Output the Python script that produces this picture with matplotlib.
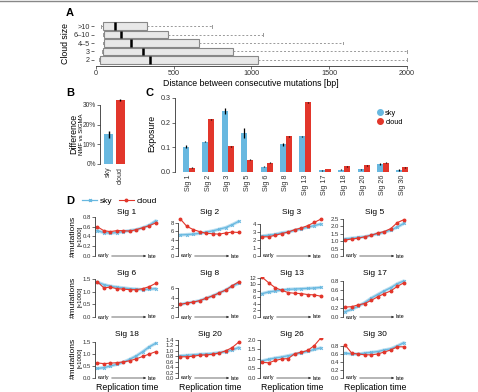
import matplotlib
matplotlib.use("Agg")
import matplotlib.pyplot as plt
import numpy as np

plt.rcParams['font.family'] = ['Liberation Sans', 'DejaVu Sans']

W, H = 478, 392
SKY = "#68B8E0"
CLOUD = "#E2362B"

# ---- Panel A data (box stats) ----
cloud_sizes = ["2", "3", "4\u20135", "6\u201310", ">10"]
box_low = [20, 40, 45, 45, 35]
box_q1 = [25, 45, 50, 50, 45]
box_med = [345, 302, 225, 163, 124]
box_q3 = [1045, 880, 665, 460, 328]
box_high = [2000, 2000, 1590, 1075, 745]

# ---- Panel B data ----
b_groups = ["sky", "cloud"]
b_values = [15.0, 32.5]
b_err = [2.0, 0.4]

# ---- Panel C data ----
sigs = ["Sig 1", "Sig 2", "Sig 3", "Sig 5", "Sig 6", "Sig 8", "Sig 13",
        "Sig 17", "Sig 18", "Sig 20", "Sig 26", "Sig 30"]
c_sky = [0.102, 0.122, 0.248, 0.158, 0.022, 0.112, 0.145, 0.007, 0.009, 0.012, 0.032, 0.009]
c_cloud = [0.017, 0.213, 0.105, 0.050, 0.037, 0.145, 0.282, 0.012, 0.023, 0.028, 0.038, 0.020]
c_sky_err = [0.006, 0.002, 0.012, 0.020, 0.003, 0.006, 0.002, 0.002, 0.002, 0.002, 0.003, 0.003]
c_cloud_err = [0.002, 0.002, 0.002, 0.002, 0.002, 0.002, 0.002, 0.001, 0.002, 0.002, 0.002, 0.002]

# ---- Panel D data ----
d_sky = {
    "Sig 1": [0.52, 0.48, 0.47, 0.48, 0.50, 0.52, 0.54, 0.58, 0.63, 0.72],
    "Sig 2": [5.1, 5.2, 5.3, 5.5, 5.8, 6.1, 6.5, 6.9, 7.6, 8.4],
    "Sig 3": [2.5, 2.6, 2.7, 2.9, 3.0, 3.2, 3.4, 3.6, 3.8, 4.0],
    "Sig 5": [1.15, 1.2, 1.25, 1.3, 1.4, 1.5, 1.6, 1.75, 1.95, 2.2],
    "Sig 6": [1.38, 1.28, 1.22, 1.18, 1.15, 1.12, 1.10, 1.08, 1.10, 1.12],
    "Sig 8": [2.6, 2.9, 3.1, 3.4, 3.9, 4.4, 5.0, 5.6, 6.4, 7.0],
    "Sig 13": [7.2, 7.7, 8.0, 8.3, 8.5, 8.6, 8.7, 8.8, 8.9, 9.1],
    "Sig 17": [0.12, 0.17, 0.24, 0.32, 0.42, 0.50, 0.58, 0.65, 0.74, 0.80],
    "Sig 18": [0.40, 0.43, 0.50, 0.57, 0.66, 0.78, 0.92, 1.10, 1.30, 1.45],
    "Sig 20": [0.82, 0.83, 0.85, 0.87, 0.88, 0.90, 0.93, 0.97, 1.03, 1.12],
    "Sig 26": [0.90, 0.98, 1.05, 1.10, 1.17, 1.25, 1.32, 1.40, 1.50, 1.58],
    "Sig 30": [0.62, 0.60, 0.60, 0.62, 0.64, 0.66, 0.70, 0.73, 0.80, 0.88],
}
d_cloud = {
    "Sig 1": [0.60, 0.52, 0.50, 0.52, 0.52, 0.51, 0.54, 0.58, 0.62, 0.68],
    "Sig 2": [9.0, 7.2, 6.4, 5.9, 5.5, 5.4, 5.3, 5.6, 5.8, 5.7],
    "Sig 3": [2.4, 2.4, 2.6, 2.8, 3.0, 3.3, 3.5, 3.8, 4.2, 4.6],
    "Sig 5": [1.08, 1.15, 1.2, 1.3, 1.4, 1.55, 1.65, 1.85, 2.25, 2.45],
    "Sig 6": [1.40, 1.15, 1.18, 1.12, 1.10, 1.08, 1.08, 1.12, 1.20, 1.33],
    "Sig 8": [2.6, 2.9, 3.1, 3.4, 3.9, 4.4, 5.0, 5.6, 6.5, 7.3],
    "Sig 13": [12.2, 10.5, 9.0, 8.2, 7.5, 7.3, 7.2, 6.9, 6.8, 6.4],
    "Sig 17": [0.22, 0.23, 0.27, 0.30, 0.37, 0.45, 0.52, 0.58, 0.68, 0.76],
    "Sig 18": [0.63, 0.60, 0.62, 0.64, 0.67, 0.72, 0.80, 0.90, 1.00, 1.10],
    "Sig 20": [0.78, 0.78, 0.80, 0.84, 0.85, 0.87, 0.92, 1.00, 1.12, 1.32],
    "Sig 26": [0.82, 0.80, 0.92, 1.00, 1.02, 1.28, 1.35, 1.45, 1.70, 2.10],
    "Sig 30": [0.82, 0.62, 0.60, 0.58, 0.58, 0.60, 0.65, 0.70, 0.78, 0.78],
}
d_ymax = {"Sig 1": 0.82, "Sig 2": 9.7, "Sig 3": 5.0, "Sig 5": 2.7,
          "Sig 6": 1.58, "Sig 8": 8.3, "Sig 13": 12.3, "Sig 17": 0.89,
          "Sig 18": 1.67, "Sig 20": 1.47, "Sig 26": 2.1, "Sig 30": 1.0}
d_ticks = {"Sig 1": [0, 0.2, 0.4, 0.6, 0.8], "Sig 2": [0, 2, 4, 6, 8],
           "Sig 3": [0, 1, 2, 3, 4], "Sig 5": [0, 0.5, 1.0, 1.5, 2.0, 2.5],
           "Sig 6": [0, 0.5, 1.0, 1.5], "Sig 8": [0, 2, 4, 6],
           "Sig 13": [0, 2, 4, 6, 8, 10, 12], "Sig 17": [0, 0.2, 0.4, 0.6, 0.8],
           "Sig 18": [0, 0.5, 1.0, 1.5], "Sig 20": [0, 0.2, 0.4, 0.6, 0.8, 1.0, 1.2, 1.4],
           "Sig 26": [0, 0.5, 1.0, 1.5, 2.0], "Sig 30": [0, 0.2, 0.4, 0.6, 0.8]}
d_fmt = {"Sig 1": "%.1f", "Sig 2": "%d", "Sig 3": "%d", "Sig 5": "%.1f",
         "Sig 6": "%.1f", "Sig 8": "%d", "Sig 13": "%d", "Sig 17": "%.1f",
         "Sig 18": "%.1f", "Sig 20": "%.1f", "Sig 26": "%.1f", "Sig 30": "%.1f"}

fig = plt.figure(figsize=(W / 100, H / 100), dpi=100)


def ax_px(l, t, r, b):
    return fig.add_axes([l / W, 1 - b / H, (r - l) / W, (b - t) / H])


def style(ax, fs=5):
    for s in ["top", "right"]:
        ax.spines[s].set_visible(False)
    ax.tick_params(labelsize=fs, length=2, width=0.5, pad=1, colors="#333333")
    for s in ["left", "bottom"]:
        ax.spines[s].set_linewidth(0.6)
        ax.spines[s].set_color("#333333")


# thin frame line at top
fig.add_artist(plt.Line2D([0, 1], [1 - 1 / H, 1 - 1 / H], color="#888888", lw=1))

# ================= Panel A =================
ppu = 311 / 2000
axA = ax_px(96 - 15 * ppu, 20, 407 + 10 * ppu, 66)
stats = []
for i in range(len(cloud_sizes)):
    stats.append(dict(med=box_med[i], q1=box_q1[i], q3=box_q3[i],
                      whislo=box_low[i], whishi=box_high[i], fliers=[]))
axA.bxp(stats, positions=np.arange(1, 6), vert=False, widths=0.88,
        patch_artist=True, showfliers=False,
        boxprops=dict(facecolor="#E8E8E8", edgecolor="#888888", lw=0.8),
        medianprops=dict(color="black", lw=1.8),
        whiskerprops=dict(color="#999999", lw=0.7, ls=(0, (2, 2))),
        capprops=dict(color="#999999", lw=0.7), capwidths=0.35)
axA.set_xlim(-15, 2010)
axA.set_ylim(0.27, 5.73)
style(axA, 5.2)
axA.spines["left"].set_visible(False)
axA.spines["bottom"].set_bounds(0, 2000)
axA.set_xticks([0, 500, 1000, 1500, 2000])
axA.set_yticks(np.arange(1, 6))
axA.set_yticklabels(cloud_sizes)
axA.set_xlabel("Distance between consecutive mutations [bp]", fontsize=6.3, labelpad=1)
axA.set_ylabel("Cloud size", fontsize=6.3, labelpad=2)
fig.text(66 / W, 1 - 13 / H, "A", fontsize=8, fontweight="bold", va="center")

# ================= Panel B =================
axB = ax_px(100, 164 - 33 * 1.967, 126, 164)
xb = np.array([0, 1])
axB.bar(xb, b_values, width=0.8, color=[SKY, CLOUD], yerr=b_err,
        error_kw=dict(ecolor="black", elinewidth=1.0, capsize=0))
axB.set_xlim(-0.75, 1.5)
axB.set_ylim(0, 33)
style(axB, 4.8)
axB.spines["bottom"].set_visible(False)
axB.spines["left"].set_bounds(0, 30)
axB.set_yticks([0, 10, 20, 30])
axB.set_yticklabels(["0%", "10%", "20%", "30%"])
axB.set_xticks(xb)
axB.set_xticklabels(b_groups, rotation=90, fontsize=5)
axB.tick_params(axis="x", length=0, pad=2)
fig.text(74 / W, 1 - 134 / H, "Difference", rotation=90, fontsize=6.3, ha="center", va="center")
fig.text(81.5 / W, 1 - 134 / H, "NMF vs SIGMA", rotation=90, fontsize=4.3, ha="center", va="center")
fig.text(66 / W, 1 - 93 / H, "B", fontsize=8, fontweight="bold", va="center")

# ================= Panel C =================
ppc = 19.4
left_c = -0.72
axC = ax_px(175, 172 - 0.312 * 246.7, 175 + 12.32 * ppc, 172)
xc = np.arange(len(sigs))
bw = 0.31
axC.bar(xc - bw / 2, c_sky, width=bw, color=SKY, yerr=c_sky_err, label="sky",
        error_kw=dict(ecolor="black", elinewidth=0.9, capsize=0))
axC.bar(xc + bw / 2, c_cloud, width=bw, color=CLOUD, yerr=c_cloud_err, label="cloud",
        error_kw=dict(ecolor="black", elinewidth=0.9, capsize=0))
axC.set_xlim(left_c, left_c + 12.32)
axC.set_ylim(0, 0.312)
style(axC, 5.2)
axC.spines["bottom"].set_visible(False)
axC.spines["left"].set_bounds(0, 0.3)
axC.set_yticks([0, 0.1, 0.2, 0.3])
axC.set_yticklabels(["0.0", "0.1", "0.2", "0.3"])
axC.set_xticks(xc)
axC.set_xticklabels(sigs, rotation=90, fontsize=5.2)
axC.tick_params(axis="x", length=0, pad=2)
axC.set_ylabel("Exposure", fontsize=6.3, labelpad=3)
hs = [plt.Line2D([], [], marker="o", ls="", color=SKY, ms=4),
      plt.Line2D([], [], marker="o", ls="", color=CLOUD, ms=4)]
fig.legend(hs, ["sky", "cloud"], loc="upper left", bbox_to_anchor=(372 / W, 1 - 106 / H),
           frameon=False, fontsize=5.3, handletextpad=0.1, labelspacing=0.25,
           borderpad=0, handlelength=1.2)
fig.text(146 / W, 1 - 93 / H, "C", fontsize=8, fontweight="bold", va="center")

# ================= Panel D =================
fig.text(66 / W, 1 - 201 / H, "D", fontsize=8, fontweight="bold", va="center")
hd = [plt.Line2D([], [], marker="x", color=SKY, ms=2, lw=0.9),
      plt.Line2D([], [], marker="o", color=CLOUD, ms=1.8, lw=0.8)]
fig.legend(hd, ["sky", "cloud"], loc="center left", bbox_to_anchor=(78 / W, 1 - 201 / H),
           frameon=False, fontsize=6, ncol=2, handletextpad=0.3, columnspacing=0.8,
           borderpad=0, handlelength=1.8)

col_left = [95, 178, 260, 343]
row_bottom = [256, 317, 378]
order = ["Sig 1", "Sig 2", "Sig 3", "Sig 5", "Sig 6", "Sig 8", "Sig 13", "Sig 17",
         "Sig 18", "Sig 20", "Sig 26", "Sig 30"]
xd = np.arange(10)
for k, name in enumerate(order):
    r, c = divmod(k, 4)
    l = col_left[c]
    b = row_bottom[r]
    ax = ax_px(l, b - 40, l + 64, b)
    sky = d_sky[name]
    cl = d_cloud[name]
    ax.plot(xd, sky, color=SKY, lw=2.4, alpha=0.45, solid_capstyle="round")
    ax.plot(xd, sky, color=SKY, lw=0.9, marker="x", ms=2, mew=0.7)
    ax.plot(xd, cl, color=CLOUD, lw=0.8, marker="o", ms=1.8)
    ax.set_xlim(-0.35, 9.5)
    ax.set_ylim(0, d_ymax[name])
    style(ax, 4.3)
    ax.spines["bottom"].set_visible(False)
    tk = d_ticks[name]
    ax.spines["left"].set_bounds(0, tk[-1])
    ax.set_yticks(tk)
    ax.set_yticklabels([d_fmt[name] % t for t in tk])
    ax.set_xticks([])
    ax.set_title(name, fontsize=6, pad=1.5)
    ax.text(0.05, 0.0, "early", transform=ax.transAxes, fontsize=3.8, va="center", ha="left")
    ax.text(0.82, 0.0, "late", transform=ax.transAxes, fontsize=3.8, va="center", ha="left")
    ax.annotate("", xy=(0.8, 0.0), xytext=(0.26, 0.0), xycoords="axes fraction",
                textcoords="axes fraction",
                arrowprops=dict(arrowstyle="-|>", lw=0.5, color="#333333",
                                mutation_scale=3, shrinkA=0, shrinkB=0))
    if c == 0:
        yc = b - 20
        fig.text(73 / W, 1 - yc / H, "#mutations", rotation=90, fontsize=6,
                 ha="center", va="center")
        fig.text(80.5 / W, 1 - yc / H, "[\u00d71000]", rotation=90, fontsize=4.3,
                 ha="center", va="center")
    if r == 2:
        fig.text((l + 32) / W, 1 - 388 / H, "Replication time", fontsize=6.3,
                 ha="center", va="center")

fig.savefig("out.png", dpi=100)
